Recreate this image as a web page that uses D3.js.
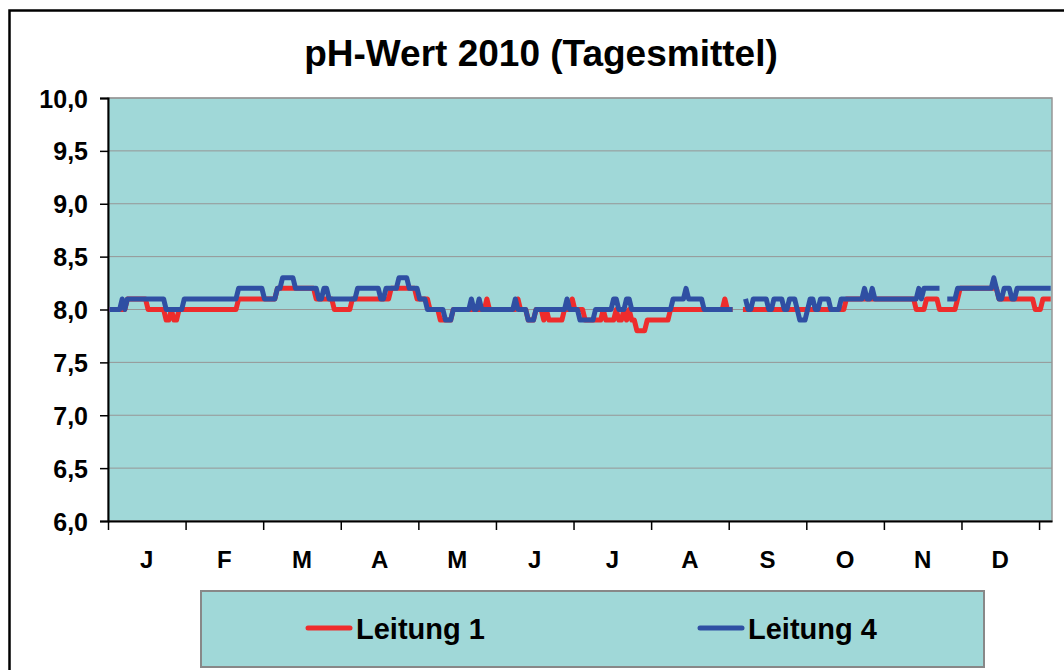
<!DOCTYPE html>
<html>
<head>
<meta charset="utf-8">
<script src="https://cdn.jsdelivr.net/npm/d3@7"></script>
<style>
  body { margin: 0; background: #fff; }
  text { font-family: 'Liberation Sans', Arial, sans-serif; font-weight: bold; fill: #000; }
</style>
</head>
<body>
<div id="chart-area"></div>
<script>
// pH daily means 2010, one value per day (null = no data)
const monthLabels = ['J', 'F', 'M', 'A', 'M', 'J', 'J', 'A', 'S', 'O', 'N', 'D']
const yTicks = [6.0, 6.5, 7.0, 7.5, 8.0, 8.5, 9.0, 9.5, 10.0]
const seriesNames = ['Leitung 1', 'Leitung 4']

const leitung1 = [
    8.0,8.0,8.0,8.0,8.0,8.0,8.0,8.1,8.1,8.1,
    8.1,8.1,8.1,8.1,8.1,8.0,8.0,8.0,8.0,8.0,
    8.0,8.0,7.9,7.9,8.0,7.9,7.9,8.0,8.0,8.0,
    8.0,8.0,8.0,8.0,8.0,8.0,8.0,8.0,8.0,8.0,
    8.0,8.0,8.0,8.0,8.0,8.0,8.0,8.0,8.0,8.0,
    8.1,8.1,8.1,8.1,8.1,8.1,8.1,8.1,8.1,8.1,
    8.1,8.1,8.1,8.1,8.1,8.2,8.2,8.2,8.2,8.2,
    8.2,8.2,8.2,8.2,8.2,8.2,8.2,8.2,8.2,8.2,
    8.1,8.1,8.1,8.1,8.1,8.1,8.1,8.0,8.0,8.0,
    8.0,8.0,8.0,8.0,8.1,8.1,8.1,8.1,8.1,8.1,
    8.1,8.1,8.1,8.1,8.1,8.1,8.1,8.1,8.1,8.2,
    8.2,8.2,8.2,8.2,8.2,8.2,8.2,8.2,8.2,8.1,
    8.1,8.1,8.1,8.1,8.0,8.0,8.0,8.0,7.9,7.9,
    7.9,7.9,7.9,8.0,8.0,8.0,8.0,8.0,8.0,8.0,
    8.0,8.0,8.0,8.0,8.0,8.0,8.1,8.0,8.0,8.0,
    8.0,8.0,8.0,8.0,8.0,8.0,8.0,8.0,8.1,8.0,
    8.0,8.0,7.9,7.9,7.9,8.0,8.0,8.0,7.9,8.0,
    7.9,7.9,7.9,7.9,7.9,7.9,8.0,8.0,8.0,8.1,
    8.0,8.0,8.0,8.0,7.9,7.9,7.9,7.9,7.9,7.9,
    7.9,8.0,7.9,7.9,7.9,7.9,8.0,7.9,7.9,8.0,
    7.9,8.0,7.9,7.9,7.8,7.8,7.8,7.8,7.9,7.9,
    7.9,7.9,7.9,7.9,7.9,7.9,7.9,8.0,8.0,8.0,
    8.0,8.0,8.0,8.0,8.0,8.0,8.0,8.0,8.0,8.0,
    8.0,8.0,8.0,8.0,8.0,8.0,8.0,8.0,8.1,8.0,
    8.0,8.0,null,null,null,8.0,8.0,8.0,8.0,8.0,
    8.0,8.0,8.0,8.0,8.0,8.0,8.0,8.0,8.0,8.0,
    8.0,8.0,8.0,8.0,8.0,8.0,8.0,8.0,8.0,8.0,
    8.0,8.0,8.0,8.0,8.0,8.0,8.0,8.0,8.0,8.0,
    8.0,8.0,8.0,8.0,8.0,8.1,8.1,8.1,8.1,8.1,
    8.1,8.1,8.1,8.1,8.1,8.1,8.1,8.1,8.1,8.1,
    8.1,8.1,8.1,8.1,8.1,8.1,8.1,8.1,8.1,8.1,
    8.1,8.1,8.0,8.0,8.0,8.0,8.1,8.1,8.1,8.1,
    8.1,8.0,8.0,8.0,8.0,8.0,8.0,8.0,8.1,8.2,
    8.2,8.2,8.2,8.2,8.2,8.2,8.2,8.2,8.2,8.2,
    8.2,8.2,8.2,8.2,8.1,8.1,8.1,8.1,8.1,8.1,
    8.1,8.1,8.1,8.1,8.1,8.1,8.1,8.1,8.0,8.0,
    8.0,8.1,8.1,8.1,8.1
]

const leitung4 = [
    8.0,8.0,8.0,8.0,8.0,8.1,8.0,8.1,8.1,8.1,
    8.1,8.1,8.1,8.1,8.1,8.1,8.1,8.1,8.1,8.1,
    8.1,8.1,8.0,8.0,8.0,8.0,8.0,8.0,8.0,8.1,
    8.1,8.1,8.1,8.1,8.1,8.1,8.1,8.1,8.1,8.1,
    8.1,8.1,8.1,8.1,8.1,8.1,8.1,8.1,8.1,8.1,
    8.2,8.2,8.2,8.2,8.2,8.2,8.2,8.2,8.2,8.2,
    8.1,8.1,8.1,8.1,8.1,8.2,8.2,8.3,8.3,8.3,
    8.3,8.3,8.2,8.2,8.2,8.2,8.2,8.2,8.2,8.2,
    8.2,8.1,8.1,8.2,8.2,8.1,8.1,8.1,8.1,8.1,
    8.1,8.1,8.1,8.1,8.1,8.1,8.2,8.2,8.2,8.2,
    8.2,8.2,8.2,8.2,8.2,8.1,8.1,8.2,8.2,8.2,
    8.2,8.2,8.3,8.3,8.3,8.3,8.2,8.2,8.2,8.2,
    8.1,8.1,8.1,8.0,8.0,8.0,8.0,8.0,8.0,8.0,
    7.9,7.9,7.9,8.0,8.0,8.0,8.0,8.0,8.0,8.0,
    8.1,8.0,8.0,8.1,8.0,8.0,8.0,8.0,8.0,8.0,
    8.0,8.0,8.0,8.0,8.0,8.0,8.0,8.1,8.0,8.0,
    8.0,8.0,7.9,7.9,7.9,8.0,8.0,8.0,8.0,8.0,
    8.0,8.0,8.0,8.0,8.0,8.0,8.0,8.1,8.0,8.0,
    8.0,8.0,7.9,7.9,7.9,7.9,7.9,7.9,8.0,8.0,
    8.0,8.0,8.0,8.0,8.0,8.1,8.1,8.0,8.0,8.0,
    8.1,8.1,8.0,8.0,8.0,8.0,8.0,8.0,8.0,8.0,
    8.0,8.0,8.0,8.0,8.0,8.0,8.0,8.0,8.1,8.1,
    8.1,8.1,8.1,8.2,8.1,8.1,8.1,8.1,8.1,8.1,
    8.0,8.0,8.0,8.0,8.0,8.0,8.0,8.0,8.0,8.0,
    8.0,8.0,null,null,null,null,8.1,8.0,8.0,8.1,
    8.1,8.1,8.1,8.1,8.1,8.0,8.0,8.1,8.1,8.1,
    8.1,8.0,8.0,8.1,8.1,8.1,8.0,7.9,7.9,7.9,
    8.0,8.1,8.1,8.0,8.0,8.1,8.1,8.1,8.1,8.0,
    8.0,8.0,8.0,8.1,8.1,8.1,8.1,8.1,8.1,8.1,
    8.1,8.1,8.2,8.1,8.1,8.2,8.1,8.1,8.1,8.1,
    8.1,8.1,8.1,8.1,8.1,8.1,8.1,8.1,8.1,8.1,
    8.1,8.1,8.1,8.2,8.1,8.2,8.2,8.2,8.2,8.2,
    8.2,8.2,null,null,8.1,8.1,8.1,8.1,8.2,8.2,
    8.2,8.2,8.2,8.2,8.2,8.2,8.2,8.2,8.2,8.2,
    8.2,8.2,8.3,8.2,8.1,8.1,8.2,8.2,8.2,8.1,
    8.1,8.2,8.2,8.2,8.2,8.2,8.2,8.2,8.2,8.2,
    8.2,8.2,8.2,8.2,8.2
]

const canvas = { width: 1064, height: 670 }
const plot = { left: 108, right: 1052, top: 98, bottom: 521 }
const colors = { bg: '#a0d8d8', red: '#ee2c2c', blue: '#2f4fa3', grid: '#969696' }
const daysPerTick = 30

let svg = d3.select('#chart-area')
    .append('svg')
    .attr('width', canvas.width)
    .attr('height', canvas.height)

// outer chart border
svg.append('rect')
    .attr('x', 9.5).attr('y', 10.5)
    .attr('width', 1200).attr('height', 800)
    .attr('fill', '#fff')
    .attr('stroke', '#000')
    .attr('stroke-width', 2.5)

// title
svg.append('text')
    .attr('x', 541)
    .attr('y', 66)
    .attr('text-anchor', 'middle')
    .style('font-size', '37px')
    .text('pH-Wert 2010 (Tagesmittel)')

// scales
let scaleX = d3.scaleLinear()
    .domain([0, leitung1.length])
    .range([plot.left, plot.right])

let scaleY = d3.scaleLinear()
    .domain([6, 10])
    .range([plot.bottom, plot.top])

// plot area
svg.append('rect')
    .attr('x', plot.left).attr('y', plot.top)
    .attr('width', plot.right - plot.left)
    .attr('height', plot.bottom - plot.top)
    .attr('fill', colors.bg)
    .attr('stroke', colors.grid)
    .attr('stroke-width', 1.5)

// gridlines
svg.append('g')
    .selectAll('line')
    .data(yTicks)
    .enter()
    .append('line')
    .attr('x1', plot.left).attr('x2', plot.right)
    .attr('y1', d => scaleY(d)).attr('y2', d => scaleY(d))
    .attr('stroke', colors.grid)
    .attr('stroke-width', 1)

// y-axis
let yAxis = d3.axisLeft(scaleY)
    .tickValues(yTicks)
    .tickSize(8)
    .tickPadding(12)
    .tickFormat(d => d3.format('.1f')(d).replace('.', ','))
let gy = svg.append('g')
    .attr('transform', `translate(${plot.left},0)`)
    .call(yAxis)
gy.select('.domain').attr('stroke-width', 2)
gy.selectAll('.tick line').attr('stroke-width', 1.5)
gy.selectAll('.tick text').style('font-size', '25px').attr('dy', '0.36em')

// x-axis (ticks every 30 days, labels centered between)
let tickDays = d3.range(0, leitung1.length, daysPerTick)
let xAxis = d3.axisBottom(scaleX)
    .tickValues(tickDays)
    .tickSize(9)
    .tickSizeOuter(0)
    .tickFormat('')
let gx = svg.append('g')
    .attr('transform', `translate(0,${plot.bottom})`)
    .call(xAxis)
gx.select('.domain').attr('stroke-width', 2)
gx.selectAll('.tick line').attr('stroke-width', 1.5)

svg.append('g')
    .selectAll('text')
    .data(monthLabels)
    .enter()
    .append('text')
    .attr('x', (d, i) => scaleX(i * daysPerTick + daysPerTick / 2))
    .attr('y', 568)
    .attr('text-anchor', 'middle')
    .style('font-size', '24px')
    .text(d => d)

// lines
let line = d3.line()
    .defined(d => d != null)
    .x((d, i) => scaleX(i + 0.5))
    .y(d => scaleY(d))

let series = [
    { name: seriesNames[0], values: leitung1, color: colors.red },
    { name: seriesNames[1], values: leitung4, color: colors.blue }
]

svg.append('g')
    .selectAll('path')
    .data(series)
    .enter()
    .append('path')
    .attr('d', d => line(d.values))
    .attr('fill', 'none')
    .attr('stroke', d => d.color)
    .attr('stroke-width', 5)
    .attr('stroke-linejoin', 'round')

// legend
let legend = svg.append('g')
legend.append('rect')
    .attr('x', 201).attr('y', 591)
    .attr('width', 783).attr('height', 76)
    .attr('fill', colors.bg)
    .attr('stroke', '#888')
    .attr('stroke-width', 2)

let items = legend.selectAll('g.item')
    .data(series)
    .enter()
    .append('g')
    .attr('class', 'item')
    .attr('transform', (d, i) => `translate(${308 + i * 392},628)`)
items.append('line')
    .attr('x1', 0).attr('x2', 42)
    .attr('stroke', d => d.color)
    .attr('stroke-width', 5)
    .attr('stroke-linecap', 'round')
items.append('text')
    .attr('x', 48)
    .attr('y', 11)
    .style('font-size', '29px')
    .text(d => d.name)
</script>
</body>
</html>
